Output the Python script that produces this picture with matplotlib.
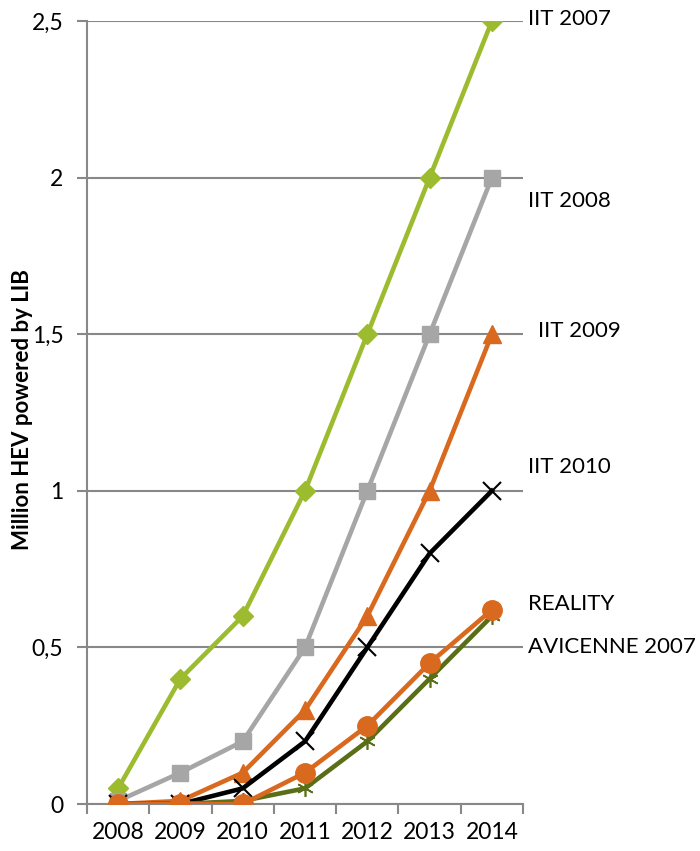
import matplotlib
matplotlib.use("Agg")
from matplotlib import pyplot as plt
import numpy as np

years = ['2008', '2009', '2010', '2011', '2012', '2013', '2014']
iit_2007 = [0.05, 0.4, 0.6, 1.0, 1.5, 2.0, 2.5]
iit_2008 = [0.01, 0.1, 0.2, 0.5, 1.0, 1.5, 2.0]
iit_2009 = [0.0, 0.01, 0.1, 0.3, 0.6, 1.0, 1.5]
iit_2010 = [0.0, 0.0, 0.05, 0.2, 0.5, 0.8, 1.0]
avicenne_2007 = [0.0, 0.0, 0.01, 0.05, 0.2, 0.4, 0.6]
reality = [0.0, 0.0, 0.0, 0.1, 0.25, 0.45, 0.62]

# label text, y position of label, x offset (axes fraction)
labels = [('IIT 2007', 2.506, 1.011), ('IIT 2008', 1.925, 1.011),
          ('IIT 2009', 1.51, 1.034), ('IIT 2010', 1.076, 1.011),
          ('REALITY', 0.639, 1.011), ('AVICENNE 2007', 0.50, 1.011)]

plt.rcParams['font.family'] = ['Lato', 'DejaVu Sans']
grid_c = '#888888'

fig = plt.figure(figsize=(7, 8.51), dpi=100)
ax = fig.add_axes([0.1243, 0.0552, 0.6229, 0.9201])
x = np.arange(len(years))

ax.plot(x, iit_2007, color='#9DBB2F', lw=3.3, marker='D', ms=10, zorder=3)
ax.plot(x, iit_2008, color='#A6A6A6', lw=3.3, marker='s', ms=12, zorder=3)
ax.plot(x, iit_2009, color='#D9691E', lw=3.3, marker='^', ms=13, zorder=3)
ax.plot(x, iit_2010, color='black', lw=3.3, marker='x', ms=13, mew=1.5, zorder=3)
ax.plot(x, avicenne_2007, color='#5A6E17', lw=3.3, marker=(6, 2, 0), ms=12, mew=1.2, zorder=3)
ax.plot(x, reality, color='#D9691E', lw=3.3, marker='o', ms=14, zorder=4)

for txt, yy, xx in labels:
    ax.text(xx, yy, txt, transform=ax.get_yaxis_transform(), fontsize=16,
            va='center', ha='left', clip_on=False)

ax.set_xlim(-0.5, len(years) - 0.5)
ax.set_ylim(0, 2.5)
ax.set_yticks([0, 0.5, 1, 1.5, 2, 2.5])
ax.set_yticklabels(['0', '0,5', '1', '1,5', '2', '2,5'])
ax.set_xticks(x)
ax.set_xticklabels(years)
ax.set_xticks(np.arange(-0.5, len(years)), minor=True)
ax.tick_params(axis='x', which='major', length=0, pad=13, labelsize=16.5)
ax.tick_params(axis='x', which='minor', length=7, width=1.5, color=grid_c)
ax.tick_params(axis='y', length=7, width=1.5, color=grid_c, labelsize=16.5, pad=10)
ax.yaxis.grid(True, color=grid_c, lw=1.5, zorder=0)
ax.set_axisbelow(True)
for s in ['top', 'right']:
    ax.spines[s].set_visible(False)
for s in ['left', 'bottom']:
    ax.spines[s].set_color(grid_c)
    ax.spines[s].set_linewidth(1.5)
ax.set_ylabel('Million HEV powered by LIB', fontsize=16, fontweight='bold')
ax.yaxis.set_label_coords(-0.124, 0.504)

fig.savefig('out.png', dpi=100)
